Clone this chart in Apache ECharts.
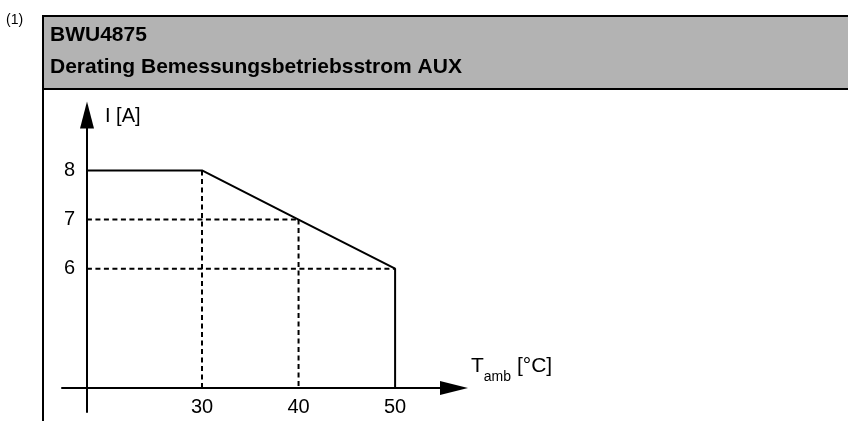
<!DOCTYPE html>
<html>
<head>
<meta charset="utf-8">
<script src="https://cdn.jsdelivr.net/npm/echarts@6/dist/echarts.min.js"></script>
<style>
html,body{margin:0;padding:0;background:#fff;}
#chart{width:848px;height:421px;}
</style>
</head>
<body>
<div id="chart"></div>
<script>
// ---- data ----
const figureNote = '(1)';
const titleLines = ['BWU4875', 'Derating Bemessungsbetriebsstrom AUX'];
const xAxisName = 'T';
const xAxisNameSub = 'amb';
const xAxisNameUnit = ' [°C]';
const yAxisName = 'I [A]';
const xTickValues = [30, 40, 50];
const yTickValues = [6, 7, 8];
const xRange = [15.5, 56.1];
const yRange = [3.08, 9.13];
const yAxisCrossX = 18.08;   // where the current axis crosses the temperature axis
const xAxisCrossY = 3.57;    // where the temperature axis crosses the current axis
const deratingTemp = [yAxisCrossX, 30, 40, 50, 50];
const deratingCurrent = [8, 8, 7, 6, xAxisCrossY];
const guideH7 = [[yAxisCrossX, 7], [40, 7]];
const guideH6 = [[yAxisCrossX, 6], [50, 6]];
const guideV30 = [[30, 8], [30, xAxisCrossY]];
const guideV40 = [[40, 7], [40, xAxisCrossY]];

const chart = echarts.init(document.getElementById('chart'), null, {renderer: 'canvas'});
const FONT = 'Liberation Sans, Arial, sans-serif';

const gridLeft = 62, gridTop = 115, gridW = 392, gridH = 297;
const dashed = {color: '#000', width: 2, type: [5, 3.5]};

function guideSeries(pts) {
  return {type: 'line', data: pts, symbol: 'none', silent: true, lineStyle: dashed, z: 2, animation: false};
}

const option = {
  animation: false,
  backgroundColor: '#fff',
  grid: {left: gridLeft, top: gridTop, width: gridW, height: gridH},
  xAxis: {
    type: 'value', min: xRange[0], max: xRange[1],
    offset: -24,
    axisLine: {show: true, lineStyle: {color: '#000', width: 2}, symbol: ['none', 'triangle'], symbolSize: [14, 28]},
    axisTick: {show: false},
    splitLine: {show: false},
    axisLabel: {customValues: xTickValues, color: '#000', fontSize: 20, fontFamily: FONT, margin: 9},
    name: '{a|' + xAxisName + '}{b|' + xAxisNameSub + '}{a|' + xAxisNameUnit + '}',
    nameLocation: 'end', nameGap: 17,
    nameTextStyle: {
      align: 'left', verticalAlign: 'bottom', padding: [0, 0, 4, 0],
      rich: {
        a: {fontSize: 21, fontFamily: FONT, color: '#000', lineHeight: 36},
        b: {fontSize: 14, fontFamily: FONT, color: '#000', lineHeight: 12, verticalAlign: 'bottom'}
      }
    }
  },
  yAxis: {
    type: 'value', min: yRange[0], max: yRange[1],
    offset: -25,
    axisLine: {show: true, lineStyle: {color: '#000', width: 2}, symbol: ['none', 'triangle'], symbolSize: [14, 27]},
    axisTick: {show: false},
    splitLine: {show: false},
    axisLabel: {customValues: yTickValues, color: '#000', fontSize: 20, fontFamily: FONT, margin: 12},
    name: yAxisName, nameLocation: 'end', nameGap: -1,
    nameTextStyle: {align: 'left', verticalAlign: 'middle', padding: [0, 0, 0, 18], fontSize: 20, fontFamily: FONT, color: '#000'}
  },
  graphic: [
    {type: 'rect', shape: {x: 43, y: 16, width: 820, height: 73}, style: {fill: '#b3b3b3', stroke: '#000', lineWidth: 2}, z: 0},
    {type: 'line', shape: {x1: 43, y1: 16, x2: 43, y2: 425}, style: {stroke: '#000', lineWidth: 2}},
    {type: 'text', x: 6, y: 20, style: {text: figureNote, fontSize: 14, fontFamily: FONT, fill: '#000', verticalAlign: 'middle'}},
    {type: 'text', x: 50, y: 35, style: {text: titleLines[0], fontSize: 21, fontWeight: 'bold', fontFamily: FONT, fill: '#000', verticalAlign: 'middle'}},
    {type: 'text', x: 50, y: 67, style: {text: titleLines[1], fontSize: 21, fontWeight: 'bold', fontFamily: FONT, fill: '#000', verticalAlign: 'middle'}}
  ],
  series: [
    guideSeries(guideH7),
    guideSeries(guideH6),
    guideSeries(guideV30),
    guideSeries(guideV40),
    {
      type: 'line', symbol: 'none', silent: true, z: 3,
      data: deratingTemp.map((t, i) => [t, deratingCurrent[i]]),
      lineStyle: {color: '#000', width: 2}
    }
  ]
};
chart.setOption(option);
</script>
</body>
</html>
